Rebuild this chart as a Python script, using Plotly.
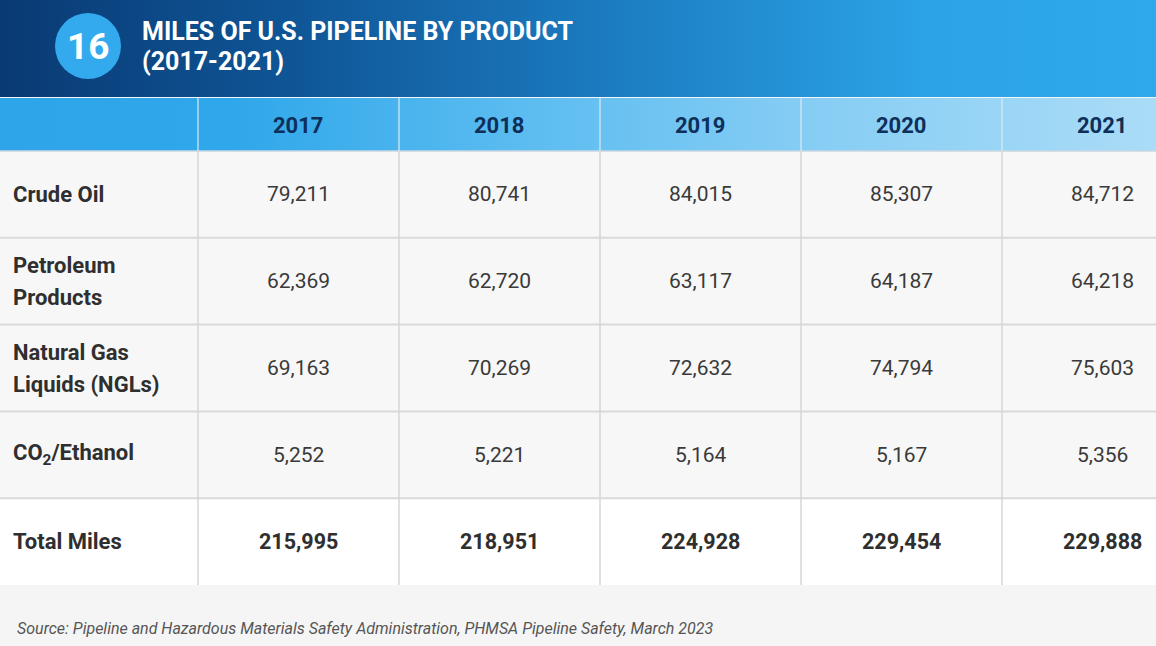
import plotly.graph_objects as go

# ---- data ----
years = ["2017", "2018", "2019", "2020", "2021"]
products = ["Crude Oil", "Petroleum<br>Products", "Natural Gas<br>Liquids (NGLs)", "CO<sub>2</sub>/Ethanol"]
crude_oil = [79211, 80741, 84015, 85307, 84712]
petroleum_products = [62369, 62720, 63117, 64187, 64218]
ngls = [69163, 70269, 72632, 74794, 75603]
co2_ethanol = [5252, 5221, 5164, 5167, 5356]
totals = [215995, 218951, 224928, 229454, 229888]
total_label = "Total Miles"
chart_number = "16"
title_lines = ["MILES OF U.S. PIPELINE BY PRODUCT", "(2017-2021)"]
source = "Source: Pipeline and Hazardous Materials Safety Administration, PHMSA Pipeline Safety, March 2023"

rows = [crude_oil, petroleum_products, ngls, co2_ethanol]

W, H = 1156, 646
FONT = "Roboto"
label_w = 198
col_w = 201
band_h = 97
head_top, head_bot = 98, 151
row_h = 86.8
n_rows = len(rows) + 1
table_bot = head_bot + row_h * n_rows

fig = go.Figure()

# header band gradient
fig.add_trace(go.Scatter(
    x=[0, W, W, 0, 0], y=[0, 0, band_h, band_h, 0], mode="lines", line=dict(width=0),
    fill="toself", hoverinfo="skip", showlegend=False,
    fillgradient=dict(type="horizontal",
                      colorscale=[[0, "#093a73"], [0.25, "#0f5596"], [0.55, "#1d7fc4"],
                                  [0.8, "#2ba3e6"], [1, "#2fa9ec"]])))
# table header gradient
fig.add_trace(go.Scatter(
    x=[0, W, W, 0, 0], y=[head_top, head_top, head_bot, head_bot, head_top], mode="lines",
    line=dict(width=0), fill="toself", hoverinfo="skip", showlegend=False,
    fillgradient=dict(type="horizontal",
                      colorscale=[[0, "#2ea5e9"], [0.2, "#2fa7ea"], [0.45, "#5bbcf0"],
                                  [0.7, "#86cdf4"], [1, "#aadcf7"]])))

shapes = []
shapes.append(dict(type="rect", x0=0, x1=W, y0=head_bot, y1=head_bot + row_h * len(rows),
                   fillcolor="#f7f7f7", line_width=0, layer="below"))
shapes.append(dict(type="rect", x0=0, x1=W, y0=head_bot + row_h * len(rows), y1=table_bot,
                   fillcolor="#ffffff", line_width=0, layer="below"))
shapes.append(dict(type="line", x0=0, x1=W, y0=head_bot, y1=head_bot,
                   line=dict(color="#c9d6e0", width=1.5)))
for i in range(1, n_rows):
    y = head_bot + row_h * i
    shapes.append(dict(type="line", x0=0, x1=W, y0=y, y1=y, line=dict(color="#dadada", width=2)))
for j in range(len(years)):
    x = label_w + col_w * j
    shapes.append(dict(type="line", x0=x, x1=x, y0=head_top, y1=head_bot,
                       line=dict(color="rgba(220,235,245,0.8)", width=1.5)))
    shapes.append(dict(type="line", x0=x, x1=x, y0=head_bot, y1=table_bot,
                       line=dict(color="#d6d6d6", width=1.5)))
shapes.append(dict(type="circle", x0=55, x1=121, y0=13, y1=79, fillcolor="#33aaee", line_width=0))

ann = []
ann.append(dict(x=88, y=46, text="<b>" + chart_number + "</b>", showarrow=False,
                font=dict(family=FONT, size=37, color="white")))
for k, t in enumerate(title_lines):
    ann.append(dict(x=140, y=31 + 30 * k, text="<b>" + t + "</b>", showarrow=False, xanchor="left",
                    font=dict(family=FONT, size=25, color="white")))

for j, yr in enumerate(years):
    ann.append(dict(x=label_w + col_w * (j + 0.5), y=(head_top + head_bot) / 2 + 1,
                    text="<b>" + yr + "</b>", showarrow=False,
                    font=dict(family=FONT, size=22, color="#0d2f5a")))

for i, (lab, vals) in enumerate(zip(products, rows)):
    yc = head_bot + row_h * (i + 0.5)
    lines = lab.split("<br>")
    for k, ln in enumerate(lines):
        yy = yc + (k - (len(lines) - 1) / 2) * 32
        ann.append(dict(x=11, y=yy, text="<b>" + ln + "</b>", showarrow=False, xanchor="left",
                        font=dict(family=FONT, size=22, color="#2f2f2f")))
    for j, v in enumerate(vals):
        ann.append(dict(x=label_w + col_w * (j + 0.5), y=yc, text=f"{v:,}", showarrow=False,
                        font=dict(family=FONT, size=21, color="#3a3a3a")))

yc = head_bot + row_h * (len(rows) + 0.5)
ann.append(dict(x=11, y=yc, text="<b>" + total_label + "</b>", showarrow=False, xanchor="left",
                font=dict(family=FONT, size=22, color="#2f2f2f")))
for j, v in enumerate(totals):
    ann.append(dict(x=label_w + col_w * (j + 0.5), y=yc, text=f"<b>{v:,}</b>", showarrow=False,
                    font=dict(family=FONT, size=21.5, color="#2f2f2f")))

ann.append(dict(x=15, y=628, text="<i>" + source + "</i>", showarrow=False, xanchor="left",
                font=dict(family=FONT, size=16, color="#555555")))

fig.update_layout(
    width=W, height=H, margin=dict(l=0, r=0, t=0, b=0),
    paper_bgcolor="#f5f5f5", plot_bgcolor="#f5f5f5",
    xaxis=dict(range=[0, W], visible=False, fixedrange=True),
    yaxis=dict(range=[H, 0], visible=False, fixedrange=True),
    shapes=shapes, annotations=ann, showlegend=False,
)
fig.write_html("out.html", config={"displayModeBar": False},
               post_script="document.body.style.margin='0';document.body.style.background='#f5f5f5';")
